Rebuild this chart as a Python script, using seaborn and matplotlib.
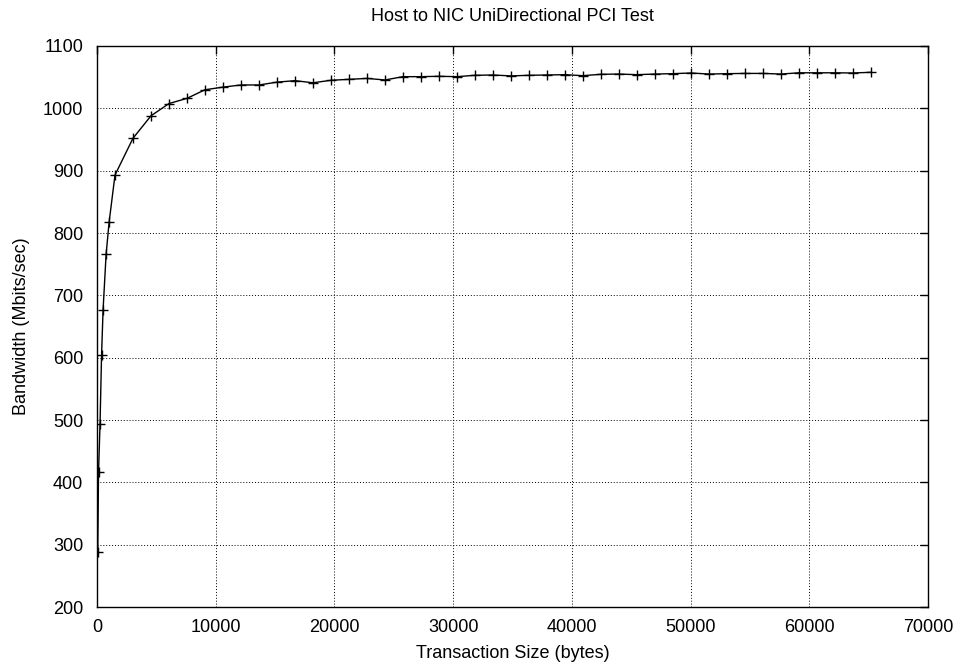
import matplotlib
matplotlib.use("Agg")
import matplotlib.pyplot as plt
import seaborn as sns
import pandas as pd

# Transaction sizes (bytes)
sizes = [64, 128, 256, 384, 512, 768, 1024,
         1516, 3032, 4548, 6064, 7580, 9096, 10612, 12128, 13644, 15160,
         16676, 18192, 19708, 21224, 22740, 24256, 25772, 27288, 28804, 30320,
         31836, 33352, 34868, 36384, 37900, 39416, 40932, 42448, 43964, 45480,
         46996, 48512, 50028, 51544, 53060, 54576, 56092, 57608, 59124, 60640,
         62156, 63672, 65188]

# Bandwidth (Mbits/sec)
bandwidth = [289, 416, 494, 604, 677, 766, 818,
             893, 952, 988, 1007.7, 1016, 1029.8, 1034, 1037.5, 1037.5, 1042,
             1044.4, 1041, 1045, 1046.5, 1048, 1045.5, 1050.8, 1050.8, 1051.4, 1050.8,
             1053, 1053.5, 1052, 1053, 1053.5, 1054, 1052.4, 1054.6, 1055, 1054,
             1055, 1055.6, 1056.7, 1055, 1055.6, 1056, 1056, 1055, 1057, 1057,
             1057, 1056.7, 1057.8]

x_ticks = [0, 10000, 20000, 30000, 40000, 50000, 60000, 70000]
y_ticks = [200, 300, 400, 500, 600, 700, 800, 900, 1000, 1100]

df = pd.DataFrame({"size": sizes, "bw": bandwidth})

sns.set_theme(style="white")
plt.rcParams["font.family"] = ["Liberation Sans", "DejaVu Sans"]

fig = plt.figure(figsize=(9.6, 6.64), dpi=100)
ax = fig.add_axes([97 / 960, 1 - 607 / 664, (928 - 97) / 960, (607 - 46) / 664])

sns.lineplot(data=df, x="size", y="bw", ax=ax, color="black", linewidth=1.0,
             marker="+", markersize=6.5, markeredgewidth=1.0, markeredgecolor="black")

ax.set_xlim(0, 70000)
ax.set_ylim(200, 1100)
ax.set_xticks(x_ticks)
ax.set_yticks(y_ticks)
ax.set_xticklabels([str(t) for t in x_ticks])
ax.set_yticklabels([str(t) for t in y_ticks])

ax.grid(True, color="black", linestyle=(0, (1, 2)), linewidth=0.7)
ax.set_axisbelow(True)

for s in ax.spines.values():
    s.set_color("black")
    s.set_linewidth(1.0)
    s.set_visible(True)

ax.tick_params(axis="both", which="both", direction="in", length=6, width=1,
               color="black", top=True, right=True, labelsize=13,
               labelcolor="black")
ax.tick_params(axis="y", pad=10)
ax.tick_params(axis="x", pad=9)

ax.set_title("Host to NIC UniDirectional PCI Test", fontsize=13, color="black", pad=18)
ax.set_xlabel("Transaction Size (bytes)", fontsize=13, color="black", labelpad=6)
ax.set_ylabel("Bandwidth (Mbits/sec)", fontsize=13, color="black", labelpad=9)

fig.savefig("out.png", dpi=100)
